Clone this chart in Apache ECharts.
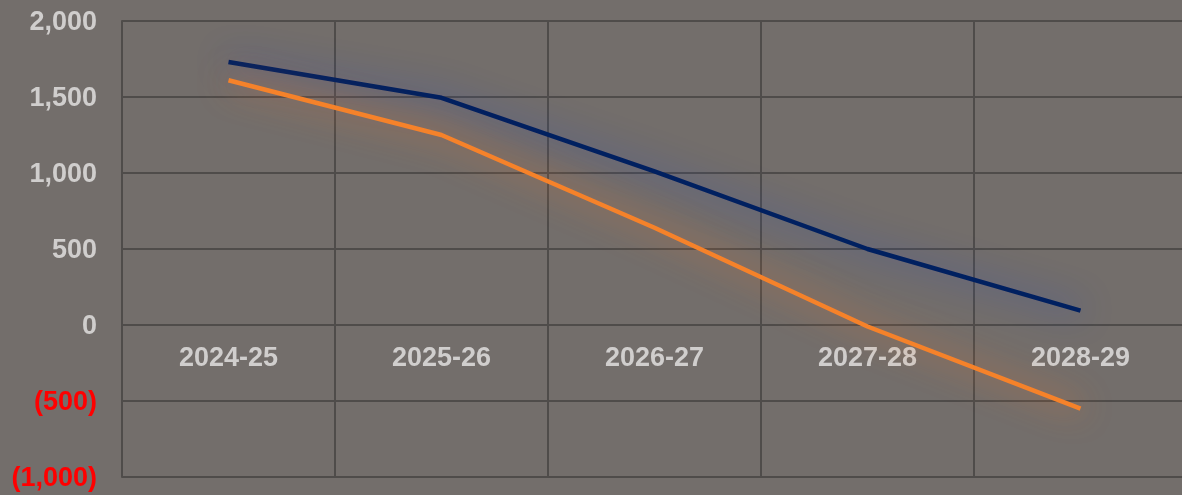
<!DOCTYPE html>
<html>
<head>
<meta charset="utf-8">
<script src="https://cdn.jsdelivr.net/npm/echarts@6/dist/echarts.min.js"></script>
<style>
  html, body { margin: 0; padding: 0; background: #736e6b; }
  #chart { width: 1182px; height: 495px; }
</style>
</head>
<body>
<div id="chart"></div>
<script>
var years = ["2024-25", "2025-26", "2026-27", "2027-28", "2028-29"];
var navyLine = [1730, 1495, 1010, 500, 95];
var orangeLine = [1610, 1250, 640, -10, -550];
var yTicks = [-1000, -500, 0, 500, 1000, 1500, 2000];

function fmt(v) {
	var s = Math.abs(v).toLocaleString("en-US");
	return v < 0 ? "{neg|(" + s + ")}" : "{pos|" + s + "}";
}

var lineStyleFor = function (c, glow) {
	return { color: c, width: 4.5, shadowColor: glow, shadowBlur: 32 };
};

var gridColor = "#4f4c4a";
var font = "Liberation Sans, Arial, sans-serif";

var chart = echarts.init(document.getElementById("chart"));
chart.setOption({
	backgroundColor: "#736e6b",
	animation: false,
	grid: { left: 122, top: 21, width: 1065, height: 456, outerBoundsMode: "none", containLabel: false },
	xAxis: {
		type: "category",
		data: years,
		boundaryGap: true,
		axisLine: { show: false, onZero: false },
		axisTick: { show: false },
		axisLabel: {
			color: "#d0cecd",
			fontFamily: font,
			fontWeight: "bold",
			fontSize: 27,
			verticalAlign: "middle",
			margin: -118
		},
		splitLine: { show: true, interval: 0, lineStyle: { color: gridColor, width: 2 } }
	},
	yAxis: {
		type: "value",
		min: yTicks[0],
		max: yTicks[yTicks.length - 1],
		interval: yTicks[1] - yTicks[0],
		axisLine: { show: true, lineStyle: { color: gridColor, width: 2 } },
		axisTick: { show: false },
		axisLabel: {
			margin: 25,
			formatter: fmt,
			rich: {
				pos: { color: "#d0cecd", fontFamily: font, fontWeight: "bold", fontSize: 27, padding: [3, 0, 0, 0] },
				neg: { color: "#ff0000", fontFamily: font, fontWeight: "bold", fontSize: 27, padding: [3, 0, 0, 0] }
			}
		},
		splitLine: { show: true, lineStyle: { color: gridColor, width: 2 } }
	},
	series: [
		{
			type: "line",
			data: navyLine,
			symbol: "none",
			z: 3,
			lineStyle: lineStyleFor("#002060", "rgba(40,75,190,0.9)")
		},
		{
			type: "line",
			data: orangeLine,
			symbol: "none",
			z: 4,
			lineStyle: lineStyleFor("#f5822a", "rgba(245,120,40,0.9)")
		}
	]
});
</script>
</body>
</html>
